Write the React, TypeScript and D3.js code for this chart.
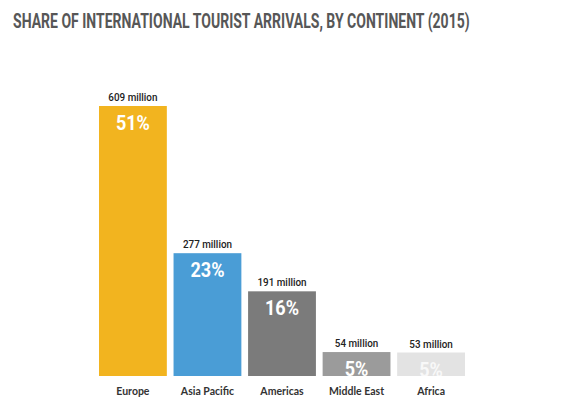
import { useEffect, useRef } from "react"
import * as d3 from "d3"

const continents = ["Europe", "Asia Pacific", "Americas", "Middle East", "Africa"]
const arrivals = [609, 277, 191, 54, 53]
const shares = ["51%", "23%", "16%", "5%", "5%"]
const barColors = ["#f2b41f", "#4a9dd6", "#7b7b7b", "#9b9b9b", "#e3e3e3"]

const W = 588
const H = 420

export default function App() {
  const svgRef = useRef<SVGSVGElement>(null)

  useEffect(() => {
    if (!svgRef.current) return
    const svg = d3.select(svgRef.current)
    svg.selectAll("*").remove()

    const margin = { left: 99, right: 123, top: 106, bottom: 44 }
    const baseY = H - margin.bottom

    const x = d3
      .scaleBand()
      .domain(continents)
      .range([margin.left, W - margin.right])
      .paddingInner(0.09)
      .paddingOuter(0)

    const y = d3.scaleLinear().domain([0, 609]).range([baseY, margin.top])

    const rows = continents.map((c, i) => ({
      name: c,
      value: arrivals[i],
      share: shares[i],
      color: barColors[i],
    }))

    // title, squeezed to the condensed width of the original
    const title = svg
      .append("text")
      .attr("x", 0)
      .attr("y", 0)
      .style("font-family", "Roboto, sans-serif")
      .style("font-weight", 700)
      .style("font-size", "21px")
      .style("fill", "#575757")
      .text("SHARE OF INTERNATIONAL TOURIST ARRIVALS, BY CONTINENT (2015)")
    const len = (title.node() as SVGTextElement).getComputedTextLength() || 457
    title.attr("transform", `translate(13,28) scale(${457 / len},1)`)

    // bars
    svg
      .selectAll(".bar")
      .data(rows)
      .enter()
      .append("rect")
      .attr("class", "bar")
      .attr("x", (d) => x(d.name) || 0)
      .attr("y", (d) => y(d.value))
      .attr("width", x.bandwidth())
      .attr("height", (d) => baseY - y(d.value))
      .attr("fill", (d) => d.color)

    // value labels above the bars
    svg
      .selectAll(".val")
      .data(rows)
      .enter()
      .append("text")
      .attr("class", "val")
      .attr(
        "transform",
        (d) => `translate(${(x(d.name) || 0) + x.bandwidth() / 2},${y(d.value) - 5}) scale(0.86,1)`,
      )
      .attr("text-anchor", "middle")
      .style("font-family", "Roboto, sans-serif")
      .style("font-weight", 500)
      .style("font-size", "11.5px")
      .style("fill", "#222")
      .text((d) => `${d.value} million`)

    // share labels inside the bars
    svg
      .selectAll(".share")
      .data(rows)
      .enter()
      .append("text")
      .attr("class", "share")
      .attr(
        "transform",
        (d) => `translate(${(x(d.name) || 0) + x.bandwidth() / 2},${y(d.value) + 24}) scale(0.86,1)`,
      )
      .attr("text-anchor", "middle")
      .style("font-family", "Roboto, sans-serif")
      .style("font-weight", 700)
      .style("font-size", "21px")
      .style("fill", "#fff")
      .style("fill-opacity", (d, i) => (i === 4 ? 0.75 : 1))
      .text((d) => d.share)

    // category labels
    svg
      .selectAll(".cat")
      .data(rows)
      .enter()
      .append("text")
      .attr("class", "cat")
      .attr("x", (d) => (x(d.name) || 0) + x.bandwidth() / 2)
      .attr("y", baseY + 19)
      .attr("text-anchor", "middle")
      .style("font-family", "Lato, sans-serif")
      .style("font-weight", 700)
      .style("font-size", "10.5px")
      .style("fill", "#333")
      .text((d) => d.name)
  }, [])

  return (
    <svg
      ref={svgRef}
      width={W}
      height={H}
      style={{ position: "absolute", left: 0, top: 0, background: "#fff" }}
    />
  )
}
